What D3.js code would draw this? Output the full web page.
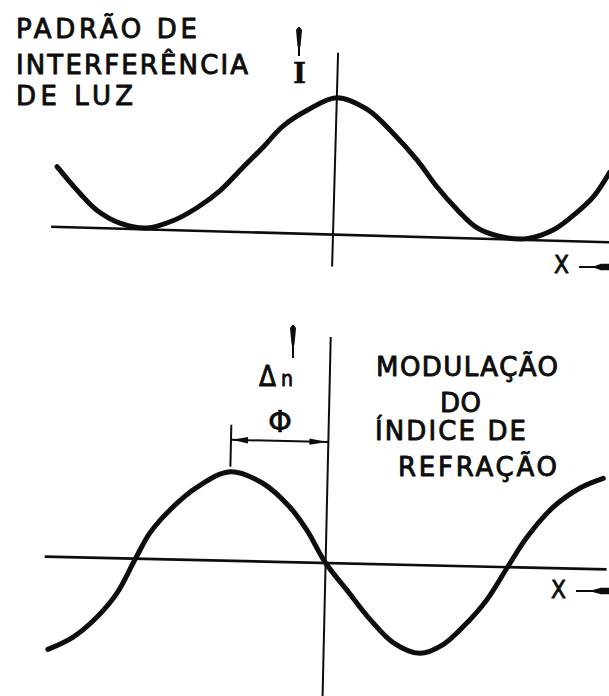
<!DOCTYPE html>
<html>
<head>
<meta charset="utf-8">
<script src="https://cdn.jsdelivr.net/npm/d3@7"></script>
<style>
  html, body { margin: 0; padding: 0; background: #fff; }
  svg { display: block; }
</style>
</head>
<body>
<script>
// Light interference pattern I(x): phase in degrees, intensity relative to the peak
const intensityX = [-271, -248, -231, -208, -182, -156, -133, -111, -90, -71, -52, -29, 0,
                    30, 56, 80, 100, 120, 140, 163, 189, 215, 237, 253, 268];
const intensityI = [0.44, 0.25, 0.13, 0.04, 0.01, 0.07, 0.17, 0.30, 0.47, 0.62, 0.78, 0.90, 1.00,
                    0.92, 0.75, 0.56, 0.37, 0.21, 0.08, 0.02, 0.01, 0.08, 0.21, 0.33, 0.51];

// Refractive-index modulation Δn(x), shifted by the phase Φ
const indexX = [-269, -245, -222, -203, -186, -172, -153, -127, -95, -63, -36, -19, 0,
                21, 45, 68, 94, 116, 135, 158, 177, 196, 221, 247, 269];
const indexN = [-1.03, -0.89, -0.66, -0.39, -0.01, 0.29, 0.55, 0.81, 0.99, 0.87, 0.61, 0.36, 0,
                -0.29, -0.62, -0.87, -0.98, -0.88, -0.68, -0.37, -0.01, 0.34, 0.68, 0.90, 1.01];

// Captions
const upperCaption = ["PADRÃO DE", "INTERFERÊNCIA", "DE LUZ"];
const lowerCaption = ["MODULAÇÃO", "DO", "ÍNDICE DE", "REFRAÇÃO"];
const intensitySymbol = "I";
const indexSymbol = ["Δ", "n"];
const phaseSymbol = "Φ";
const axisSymbol = "X";

const W = 609, H = 696;
const ink = "#0d0d0d";
const font = "'DejaVu Sans', sans-serif";

const svg = d3.select("body").append("svg")
  .attr("width", W).attr("height", H)
  .attr("viewBox", `0 0 ${W} ${H}`);

svg.append("rect").attr("width", W).attr("height", H).attr("fill", "#fff");

// ---------- upper panel: intensity ----------
const topPanel = svg.append("g").attr("transform", "translate(333,234.6) rotate(1.6)");
const xTop = d3.scaleLinear().domain([-300, 300]).range([-307.5, 307.5]);
const yTop = d3.scaleLinear().domain([0, 1]).range([0, -137]);

topPanel.append("line")
  .attr("x1", -282).attr("x2", 300).attr("y1", yTop(0)).attr("y2", yTop(0))
  .attr("stroke", ink).attr("stroke-width", 2.6);
topPanel.append("line")
  .attr("x1", xTop(0)).attr("x2", xTop(0)).attr("y1", -182).attr("y2", 32)
  .attr("stroke", ink).attr("stroke-width", 2);

const lineTop = d3.line()
  .x((d, i) => xTop(intensityX[i]))
  .y(d => yTop(d))
  .curve(d3.curveCatmullRom.alpha(0.5));
topPanel.append("path")
  .attr("d", lineTop(intensityI))
  .attr("fill", "none").attr("stroke", ink)
  .attr("stroke-width", 5).attr("stroke-linecap", "round");

// ---------- lower panel: index modulation ----------
const botPanel = svg.append("g").attr("transform", "translate(325.6,563) rotate(1.3)");
const xBot = d3.scaleLinear().domain([-300, 300]).range([-307.5, 307.5]);
const yBot = d3.scaleLinear().domain([-1, 1]).range([90, -90]);

botPanel.append("line")
  .attr("x1", -281).attr("x2", 281).attr("y1", yBot(0)).attr("y2", yBot(0))
  .attr("stroke", ink).attr("stroke-width", 2.6);
botPanel.append("line")
  .attr("x1", xBot(0)).attr("x2", xBot(0)).attr("y1", -226).attr("y2", 140)
  .attr("stroke", ink).attr("stroke-width", 2);

const lineBot = d3.line()
  .x((d, i) => xBot(indexX[i]))
  .y(d => yBot(d))
  .curve(d3.curveCatmullRom.alpha(0.5));
botPanel.append("path")
  .attr("d", lineBot(indexN))
  .attr("fill", "none").attr("stroke", ink)
  .attr("stroke-width", 5).attr("stroke-linecap", "round");

// Φ bracket: from the Δn crest left of the axis to the I crest (the vertical axis)
const crestIdx = d3.maxIndex(indexN, (v, i) => (indexX[i] < 0 ? v : -Infinity));
const crestX = xBot(indexX[crestIdx]);
const barTop = -136, barBot = yBot(indexN[crestIdx]) - 5, bracketY = -121;
botPanel.append("line")
  .attr("x1", crestX).attr("x2", crestX).attr("y1", barTop).attr("y2", barBot)
  .attr("stroke", ink).attr("stroke-width", 2);
botPanel.append("line")
  .attr("x1", crestX).attr("x2", xBot(0)).attr("y1", bracketY).attr("y2", bracketY)
  .attr("stroke", ink).attr("stroke-width", 2);
function head(tip, dir, len, half) {
  const b = tip + dir * len;
  return `M${tip},${bracketY} L${b},${bracketY - half} L${b},${bracketY + half} Z`;
}
botPanel.append("path").attr("d", head(crestX + 1, 1, 16, 3.2)).attr("fill", ink);
botPanel.append("path").attr("d", head(xBot(0) - 1, -1, 18, 3.2)).attr("fill", ink);

// ---------- axis arrows ----------
function vArrow(x, y0, y1) {
  svg.append("line").attr("x1", x).attr("x2", x).attr("y1", y0).attr("y2", y1)
    .attr("stroke", ink).attr("stroke-width", 2);
  svg.append("path")
    .attr("d", `M${x - 3},${y0 + 3} Q${x},${y0 - 2.5} ${x + 3},${y0 + 3} L${x + 1.5},${y0 + 19} L${x},${y0 + 23} L${x - 1.5},${y0 + 19} Z`)
    .attr("fill", ink);
}
function hArrow(x0, x1, y) {
  svg.append("line").attr("x1", x0).attr("x2", x1).attr("y1", y).attr("y2", y)
    .attr("stroke", ink).attr("stroke-width", 2);
  svg.append("path")
    .attr("d", `M${x0 + 13},${y} L${x1 - 8},${y - 3.2} L${x1},${y - 3.2} L${x1},${y + 3.2} L${x1 - 8},${y + 3.2} Z`)
    .attr("fill", ink);
}
vArrow(299, 27, 56);
vArrow(293, 325, 358);
hArrow(579, 609, 267);
hArrow(576, 609, 591);

// ---------- text ----------
function label(str, x, y, size, width, opts) {
  const o = opts || {};
  const t = svg.append("text")
    .attr("x", x).attr("y", y)
    .attr("font-family", o.family || font)
    .attr("font-size", size)
    .attr("font-weight", o.weight || "normal")
    .attr("fill", ink)
    .attr("stroke", ink).attr("stroke-width", o.stroke == null ? 0.9 : o.stroke)
    .attr("stroke-linejoin", "round")
    .text(str);
  if (width) t.attr("textLength", width).attr("lengthAdjust", o.adjust || "spacing");
  return t;
}

const upperLayout = [
  { x: 16, y: 38, w: 181 },
  { x: 16, y: 74, w: 232 },
  { x: 16, y: 105, w: 117 }
];
upperCaption.forEach((s, i) => label(s, upperLayout[i].x, upperLayout[i].y, 26, upperLayout[i].w));

const lowerLayout = [
  { x: 376, y: 376, w: 182 },
  { x: 440, y: 412, w: 41 },
  { x: 375, y: 440, w: 151 },
  { x: 398, y: 476, w: 159 }
];
lowerCaption.forEach((s, i) => label(s, lowerLayout[i].x, lowerLayout[i].y, 26, lowerLayout[i].w));

label(intensitySymbol, 299.5, 83, 28, null, { family: "'DejaVu Serif', serif", weight: "bold", stroke: 0.3 })
  .attr("text-anchor", "middle");
label(indexSymbol[0], 259, 386, 29, 17, { adjust: "spacingAndGlyphs" });
label(indexSymbol[1], 281, 386, 21, 12, { adjust: "spacingAndGlyphs" });
label(phaseSymbol, 268, 432, 30, 24, { adjust: "spacingAndGlyphs", stroke: 0.6 });
label(axisSymbol, 554, 273, 25, 15, { adjust: "spacingAndGlyphs" });
label(axisSymbol, 551, 598, 25, 15, { adjust: "spacingAndGlyphs" });
</script>
</body>
</html>
